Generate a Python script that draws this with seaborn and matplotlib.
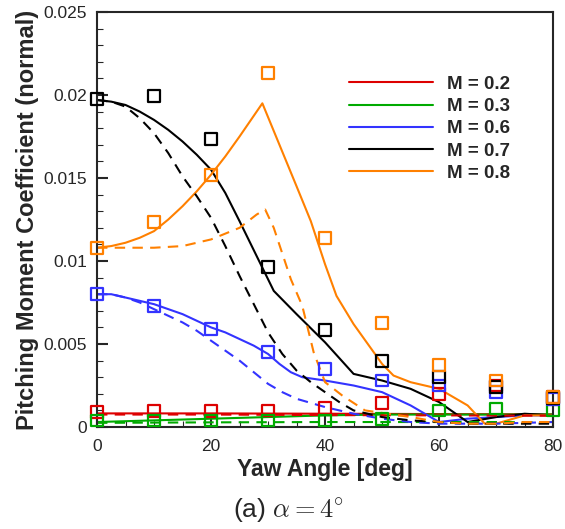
import numpy as np
import pandas as pd
import matplotlib
matplotlib.use("Agg")
import matplotlib.pyplot as plt
import seaborn as sns

# Experimental points (open squares) at each yaw angle
yaw_exp = [0, 10, 20, 30, 40, 50, 60, 70, 80]
exp_m02 = [0.00090, 0.00095, 0.00095, 0.00100, 0.00115, 0.00145, 0.00200, 0.00250, 0.00180]
exp_m03 = [0.00040, 0.00040, 0.00040, 0.00040, 0.00040, 0.00050, 0.00100, 0.00112, 0.00100]
exp_m06 = [0.00800, 0.00730, 0.00590, 0.00452, 0.00350, 0.00280, 0.00250, 0.00210, 0.00170]
exp_m07 = [0.01976, 0.01994, 0.01735, 0.00964, 0.00584, 0.00398, 0.00300, 0.00240, 0.00175]
exp_m08 = [0.01078, 0.01235, 0.01518, 0.02133, 0.01139, 0.00627, 0.00373, 0.00280, 0.00180]

# Solid-line prediction
yaw_m02_s = [0, 20, 40, 60, 80]
m02_s = [0.00082, 0.00082, 0.00080, 0.00078, 0.00076]
yaw_m03_s = [0, 10, 20, 30, 40, 50, 60, 70, 80]
m03_s = [0.00030, 0.00040, 0.00050, 0.00060, 0.00070, 0.00075, 0.00075, 0.00075, 0.00075]
yaw_m06_s = [0, 2.5, 5, 7.5, 10, 12.5, 15, 17.5, 20, 22.5, 25, 27.5, 30, 32, 34, 36, 40,
             45, 50, 55, 60, 65, 70, 75, 80]
m06_s = [0.0080, 0.0080, 0.0078, 0.0076, 0.0074, 0.0071, 0.0068, 0.0064, 0.0060, 0.0057,
         0.0053, 0.0049, 0.0044, 0.0038, 0.0033, 0.0030, 0.0028, 0.0025, 0.0021, 0.0013,
         0.0003, 0.0005, 0.0006, 0.0007, 0.0007]
yaw_m07_s = [0, 2.5, 5, 7.5, 10, 12.5, 15, 17.5, 20, 22.5, 25, 27, 29, 31, 35, 40, 45,
             50, 55, 60, 65, 70, 75, 80]
m07_s = [0.0197, 0.0196, 0.0194, 0.0190, 0.0185, 0.0179, 0.0172, 0.0164, 0.0155, 0.0141,
         0.0124, 0.0110, 0.0096, 0.0082, 0.0068, 0.0051, 0.0032, 0.0028, 0.0023, 0.0015,
         0.0003, 0.0006, 0.0008, 0.0007]
yaw_m08_s = [0, 2.5, 5, 7.5, 10, 12.5, 15, 17.5, 20, 22.5, 25, 27, 29, 32, 35, 37.5, 40,
             42, 45, 50, 52, 55, 60, 65, 68, 70, 75, 80]
m08_s = [0.0108, 0.0109, 0.0111, 0.0114, 0.0118, 0.0125, 0.0133, 0.0142, 0.0152, 0.0163,
         0.0175, 0.0185, 0.0195, 0.0170, 0.0145, 0.0124, 0.0098, 0.0079, 0.0062, 0.0038,
         0.0031, 0.0027, 0.0023, 0.0013, 0.0002, 0.0002, 0.0007, 0.0007]

# Dashed-line prediction
yaw_m02_d = [0, 20, 40, 60, 80]
m02_d = [0.00075, 0.00075, 0.00072, 0.00070, 0.00068]
yaw_m03_d = [0, 20, 40, 60, 80]
m03_d = [0.00025, 0.00028, 0.00030, 0.00030, 0.00030]
yaw_m06_d = [0, 2.5, 5, 7.5, 10, 12.5, 15, 17.5, 20, 22.5, 25, 27.5, 30, 32.5, 35, 40,
             45, 50, 55, 60, 70, 80]
m06_d = [0.0080, 0.0080, 0.0078, 0.0075, 0.0071, 0.0067, 0.0063, 0.0058, 0.0052, 0.0046,
         0.0040, 0.0033, 0.0026, 0.0021, 0.0017, 0.0012, 0.0008, 0.0005, 0.0003, 0.0002,
         0.0002, 0.0003]
yaw_m07_d = [0, 2.5, 5, 7.5, 10, 12.5, 15, 17.5, 20, 22.5, 25, 27.5, 30, 32.5, 35, 37.5,
             40, 42.5, 45, 50, 55, 60, 65, 70, 80]
m07_d = [0.0197, 0.0196, 0.0193, 0.0186, 0.0177, 0.0165, 0.0151, 0.0139, 0.0126, 0.0109,
         0.0091, 0.0074, 0.0057, 0.0044, 0.0034, 0.0027, 0.0021, 0.0015, 0.0010, 0.0006,
         0.0004, 0.0003, 0.0002, 0.0002, 0.0002]
yaw_m08_d = [0, 5, 10, 15, 20, 25, 28, 29.5, 31, 34, 36, 38, 40, 43, 47, 51, 55, 60, 65,
             70, 75, 80]
m08_d = [0.0108, 0.0108, 0.0108, 0.0109, 0.0113, 0.0120, 0.0128, 0.0131, 0.0120, 0.0089,
         0.0073, 0.0045, 0.0027, 0.0019, 0.0010, 0.0008, 0.0006, 0.0003, 0.0002, 0.0002,
         0.0003, 0.0003]

mach_labels = ["M = 0.2", "M = 0.3", "M = 0.6", "M = 0.7", "M = 0.8"]
colors = ["#dd0000", "#00aa00", "#3333ff", "#000000", "#ff8000"]

solid = [(yaw_m02_s, m02_s), (yaw_m03_s, m03_s), (yaw_m06_s, m06_s),
         (yaw_m07_s, m07_s), (yaw_m08_s, m08_s)]
dashed = [(yaw_m02_d, m02_d), (yaw_m03_d, m03_d), (yaw_m06_d, m06_d),
          (yaw_m07_d, m07_d), (yaw_m08_d, m08_d)]
exp = [exp_m02, exp_m03, exp_m06, exp_m07, exp_m08]

sns.set_style("ticks")
plt.rcParams["font.family"] = ["Liberation Sans", "DejaVu Sans"]
plt.rcParams["mathtext.fontset"] = "cm"

fig = plt.figure(figsize=(5.65, 5.29), dpi=100)
ax = fig.add_axes([0.1717, 0.1928, 0.8073, 0.7845])

for lab, col, (xs, ys) in zip(mach_labels, colors, solid):
    sns.lineplot(x=xs, y=ys, color=col, linewidth=1.5, label=lab, ax=ax,
                 estimator=None, sort=True)
for col, (xs, ys) in zip(colors, dashed):
    sns.lineplot(x=xs, y=ys, color=col, linewidth=1.5, linestyle=(0, (5, 3.5)),
                 label="_nolegend_", ax=ax, estimator=None, sort=True)
for col, ys in zip(colors, exp):
    sns.scatterplot(x=yaw_exp, y=ys, marker="s", s=70, facecolor="none",
                    edgecolor=col, linewidth=1.6, ax=ax, clip_on=False, zorder=5)

ax.set_xlim(0, 80)
ax.set_ylim(0, 0.025)
ax.set_xticks([0, 20, 40, 60, 80])
ax.set_xticks(np.arange(0, 81, 5), minor=True)
ax.set_yticks([0, 0.005, 0.01, 0.015, 0.02, 0.025])
ax.set_yticklabels(["0", "0.005", "0.01", "0.015", "0.02", "0.025"])
ax.set_yticks(np.arange(0, 0.0251, 0.001), minor=True)
ax.set_xticklabels(["0", "20", "40", "60", "80"])
ax.tick_params(axis="x", which="major", pad=8.5)
ax.tick_params(axis="y", which="major", pad=7)
ax.tick_params(axis="both", which="major", direction="in", length=8, width=1.5,
               labelsize=12.5)
ax.tick_params(axis="both", which="minor", direction="in", length=4, width=0.8)
for sp in ax.spines.values():
    sp.set_linewidth(1.5)
    sp.set_visible(True)

ax.set_xlabel("Yaw Angle [deg]", fontsize=16.5, fontweight="bold", labelpad=3)
ax.set_ylabel("Pitching Moment Coefficient (normal)", fontsize=17,
              fontweight="bold", labelpad=3)

ax.legend(loc="upper left", bbox_to_anchor=(0.552, 0.846), frameon=False,
          handlelength=4.5, handletextpad=0.75, labelspacing=0.27,
          borderpad=0, borderaxespad=0,
          prop={"weight": "bold", "size": 13.5})

fig.text(0.51, 0.036, r"(a) $\alpha = 4^{\circ}$", ha="center", va="center",
         fontsize=19)

fig.savefig("out.png", dpi=100)
